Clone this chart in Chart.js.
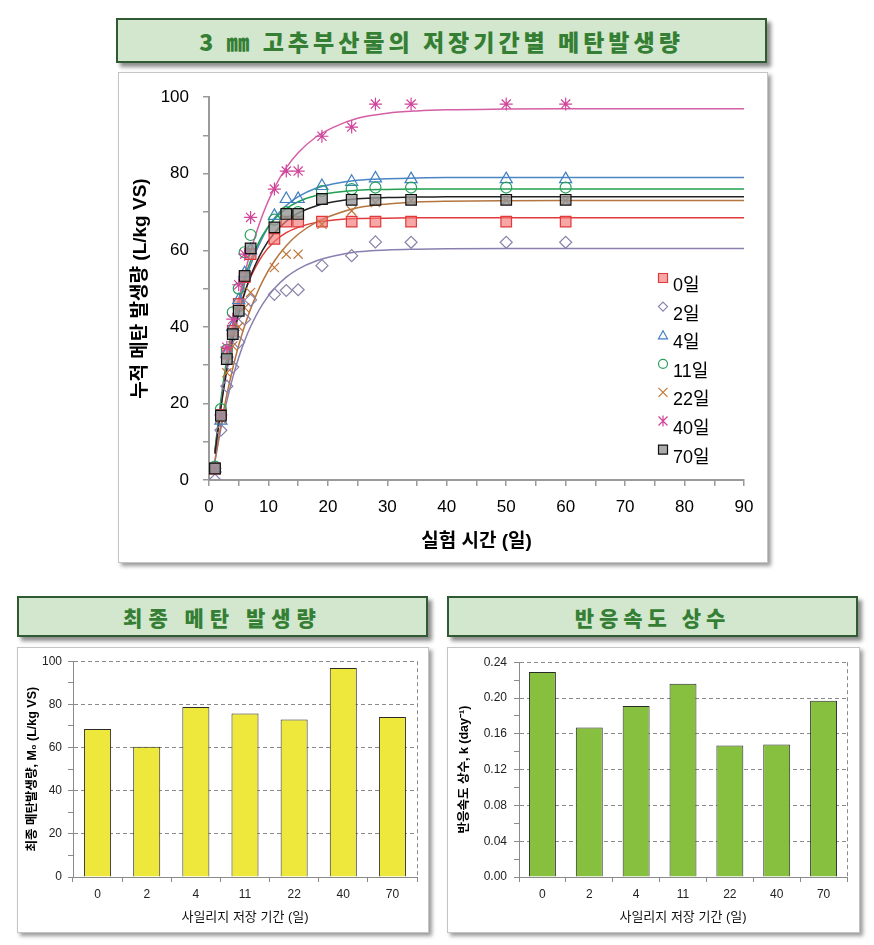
<!DOCTYPE html>
<html><head><meta charset="utf-8">
<script src="https://cdn.jsdelivr.net/npm/chart.js@4.4.1/dist/chart.umd.min.js"></script>
<style>
html,body{margin:0;padding:0;background:#fff;}
body{width:874px;height:945px;position:relative;overflow:hidden;font-family:'Noto Sans CJK KR',sans-serif;}
.tbox{position:absolute;background:#d2e7cd;border:2px solid #2f5a33;box-shadow:4px 4px 4px rgba(0,0,0,0.45);display:flex;align-items:center;justify-content:center;color:#357f35;font-weight:900;box-sizing:border-box;font-family:'Noto Sans CJK KR',serif;}
.cbox{position:absolute;background:#fff;border:1px solid #c4c4c4;box-shadow:3px 3px 4px rgba(0,0,0,0.4);box-sizing:border-box;}
canvas{position:absolute;}
</style></head>
<body>
<div class="tbox" style="left:116px;top:18px;width:651px;height:45px;font-size:23px;letter-spacing:4px;">3 ㎜ 고추부산물의 저장기간별 메탄발생량</div>
<div class="cbox" style="left:118px;top:72px;width:650px;height:491px;"></div>
<canvas id="c1" width="647" height="488" style="left:119px;top:73px;"></canvas>

<div class="tbox" style="left:17px;top:596px;width:411px;height:41px;font-size:21px;letter-spacing:6px;">최종 메탄 발생량</div>
<div class="cbox" style="left:17px;top:647px;width:412px;height:286px;"></div>
<canvas id="c2" width="410" height="283" style="left:18px;top:648px;"></canvas>

<div class="tbox" style="left:447px;top:596px;width:411px;height:41px;font-size:21px;letter-spacing:5px;">반응속도 상수</div>
<div class="cbox" style="left:447px;top:647px;width:413px;height:286px;"></div>
<canvas id="c3" width="410" height="283" style="left:448px;top:648px;"></canvas>

<script>
// ---------- data ----------
const seriesNames = ['0일','2일','4일','11일','22일','40일','70일'];
const days = [1,2,3,4,5,6,7,11,13,15,19,24,28,34,50,60];
const obs0  = [3,17,33,39,46,53,59,63,67.5,67.5,67.5,67.5,67.5,67.5,67.5,67.5];
const obs2  = [0,13,24.5,29.5,36,42,47,48.5,49.5,49.7,56,58.6,62.2,62.1,62.1,62.1];
const obs4  = [3,15.5,33,40,47,54,60,69,73.4,73.4,76.8,77.9,78.8,78.6,78.6,78.6];
const obs11 = [3.5,18.5,34,43.8,50,59.5,64,68,70,70,75.5,76,76.4,76.4,76.4,76.4];
const obs22 = [3,16,28,35,40,45,49,55.5,59,59,66.8,70.3,72.5,73,73,73];
const obs40 = [3,17,34.7,42,51,59,68.6,76,80.7,80.7,89.8,92.2,98.2,98.2,98.2,98.2];
const obs70 = [3,16.8,31.6,38.1,44.2,53.3,60.5,66,69.5,69.5,73.4,73.2,73.2,73.2,73.2,73.2];

const curveDays = [1,2,3,4,5,6,7,9,11,13,15,18,21,25,30,35,40,50,60,70,80,90];
const fit0  = [7.4,19.9,29.9,37.8,44.1,49.1,53.0,58.7,62.3,64.6,66.0,67.3,67.9,68.3,68.4,68.5,68.5,68.5,68.5,68.5,68.5,68.5];
const fit2  = [4.8,13.4,20.6,26.8,32.0,36.4,40.1,45.9,50.0,53.0,55.1,57.2,58.5,59.6,60.1,60.3,60.4,60.5,60.5,60.5,60.5,60.5];
const fit4  = [7.2,19.7,30.0,38.5,45.6,51.4,56.2,63.4,68.4,71.7,74.0,76.2,77.4,78.3,78.7,78.9,79.0,79.0,79.0,79.0,79.0,79.0];
const fit11 = [7.8,21.0,31.7,40.3,47.2,52.8,57.3,63.9,68.1,70.9,72.7,74.3,75.1,75.7,75.9,76.0,76.0,76.0,76.0,76.0,76.0,76.0];
const fit22 = [5.1,14.4,22.3,29.2,35.2,40.3,44.7,51.9,57.2,61.2,64.2,67.3,69.3,71.1,72.1,72.6,72.8,72.95,73.0,73.0,73.0,73.0];
const fit40 = [6.9,19.2,29.8,39.0,46.9,53.8,59.7,69.2,76.3,81.6,85.5,89.6,92.2,94.5,95.8,96.4,96.7,96.9,97.0,97.0,97.0,97.0];
const fit70 = [6.9,18.8,28.7,36.7,43.4,48.8,53.3,60.0,64.5,67.6,69.7,71.6,72.7,73.5,73.8,73.9,74.0,74.0,74.0,74.0,74.0,74.0];

const storageDays = ['0','2','4','11','22','40','70'];
const finalYield = [68.6,60.4,78.8,75.8,73.0,96.8,74.1];
const rateConst  = [0.229,0.167,0.191,0.216,0.147,0.148,0.197];

// ---------- styles ----------
const styles = [
  {ps:'rect',    r:7.5, bg:'rgba(245,120,120,0.65)', bc:'#e03a3a', line:'#e23a3a'},
  {ps:'rectRot', r:6,   bg:'rgba(0,0,0,0)',          bc:'#8a82aa', line:'#8a7fb0'},
  {ps:'triangle',r:7,   bg:'rgba(0,0,0,0)',          bc:'#3f7fc0', line:'#4a86c4'},
  {ps:'circle',  r:5.5, bg:'rgba(0,0,0,0)',          bc:'#27a05a', line:'#22a050'},
  {ps:'crossRot',r:6.5, bg:'rgba(0,0,0,0)',          bc:'#c0763a', line:'#b4753f'},
  {ps:'star',    r:6.5, bg:'rgba(0,0,0,0)',          bc:'#d0449a', line:'#d45ea4'},
  {ps:'rect',    r:7.5, bg:'rgba(150,150,150,0.8)',  bc:'#111111', line:'#222222'}
];
const obsAll = [obs0,obs2,obs4,obs11,obs22,obs40,obs70];
const fitAll = [fit0,fit2,fit4,fit11,fit22,fit40,fit70];

const datasets = [];
obsAll.forEach((arr,i)=>{
  datasets.push({
    label: seriesNames[i], type:'scatter', order: 10 - i,
    data: arr.map((v,j)=>({x:days[j], y:v})),
    pointStyle: styles[i].ps, pointRadius: styles[i].r,
    pointBackgroundColor: styles[i].bg, pointBorderColor: styles[i].bc,
    pointBorderWidth: 1.2, showLine:false
  });
});
fitAll.forEach((arr,i)=>{
  datasets.push({
    label: seriesNames[i]+' fit', type:'line', order: 30 - i,
    data: arr.map((v,j)=>({x:curveDays[j], y:v})),
    borderColor: styles[i].line, borderWidth: 1.5, pointRadius: 0,
    cubicInterpolationMode:'monotone', fill:false
  });
});

function drawMarker(ctx, st, x, y, r){
  ctx.save();
  ctx.fillStyle = st.bg; ctx.strokeStyle = st.bc; ctx.lineWidth = 1.2;
  ctx.beginPath();
  if (st.ps === 'rect'){ ctx.rect(x-r, y-r, 2*r, 2*r); ctx.fill(); ctx.stroke(); }
  else if (st.ps === 'rectRot'){ ctx.moveTo(x, y-r); ctx.lineTo(x+r, y); ctx.lineTo(x, y+r); ctx.lineTo(x-r, y); ctx.closePath(); ctx.stroke(); }
  else if (st.ps === 'triangle'){ ctx.moveTo(x, y-r); ctx.lineTo(x+r, y+r*0.8); ctx.lineTo(x-r, y+r*0.8); ctx.closePath(); ctx.stroke(); }
  else if (st.ps === 'circle'){ ctx.arc(x, y, r, 0, Math.PI*2); ctx.stroke(); }
  else if (st.ps === 'crossRot'){ ctx.moveTo(x-r,y-r); ctx.lineTo(x+r,y+r); ctx.moveTo(x+r,y-r); ctx.lineTo(x-r,y+r); ctx.stroke(); }
  else if (st.ps === 'star'){ ctx.moveTo(x-r,y-r); ctx.lineTo(x+r,y+r); ctx.moveTo(x+r,y-r); ctx.lineTo(x-r,y+r); ctx.moveTo(x,y-r*1.2); ctx.lineTo(x,y+r*1.2); ctx.stroke(); }
  ctx.restore();
}

const innerLegend = {
  id:'innerLegend',
  afterDraw(chart){
    const ctx = chart.ctx;
    const mx = 544, my0 = 205, step = 28.6;
    ctx.save();
    ctx.font = "18px 'Liberation Sans', 'Noto Sans CJK KR', sans-serif";
    ctx.fillStyle = '#000'; ctx.textBaseline = 'middle'; ctx.textAlign = 'left';
    seriesNames.forEach((n,i)=>{
      const y = my0 + i*step;
      drawMarker(ctx, styles[i], mx, y, 4.5);
      ctx.fillText(n, mx + 10, y + 8);
    });
    ctx.restore();
  }
};

const axisGray = '#9a9a9a';
new Chart(document.getElementById('c1'), {
  type:'scatter',
  data:{datasets},
  options:{
    responsive:false, animation:false,
    layout:{padding:{left:0,right:22,top:24,bottom:0}},
    plugins:{legend:{display:false}, tooltip:{enabled:false}},
    scales:{
      x:{type:'linear', min:0, max:90,
         afterFit:(s)=>{s.height = 81;},
         ticks:{stepSize:5, autoSkip:false, maxRotation:0, padding:11, color:'#000',
                font:{size:17, family:"'Liberation Sans', sans-serif"},
                callback:(v)=> (v % 10 === 0 ? String(v) : '')},
         grid:{display:true, drawOnChartArea:false, tickLength:6, color:axisGray, tickColor:axisGray, lineWidth:1.5},
         border:{display:true, color:axisGray, width:2},
         title:{display:true, text:'실험 시간 (일)', color:'#000', padding:{bottom:8},
                font:{size:19, weight:'bold', family:"'Liberation Sans', 'Noto Sans CJK KR', sans-serif"}}
      },
      y:{min:0, max:100,
         afterFit:(s)=>{s.width = 90;},
         ticks:{stepSize:10, autoSkip:false, padding:14, color:'#000',
                font:{size:17, family:"'Liberation Sans', sans-serif"},
                callback:(v)=> (v % 20 === 0 ? String(v) : '')},
         grid:{display:true, drawOnChartArea:false, tickLength:6, color:axisGray, tickColor:axisGray, lineWidth:1.5},
         border:{display:true, color:axisGray, width:2},
         title:{display:true, text:'누적 메탄 발생량 (L/kg VS)', color:'#000', padding:{top:10},
                font:{size:19, weight:'bold', family:"'Liberation Sans', 'Noto Sans CJK KR', sans-serif"}}
      }
    }
  },
  plugins:[innerLegend]
});

const rightDash = {
  id:'rightDash',
  beforeDatasetsDraw(chart){
    const {ctx, chartArea:a} = chart;
    ctx.save(); ctx.strokeStyle = '#8a8a8a'; ctx.lineWidth = 1; ctx.setLineDash([4,3]);
    ctx.beginPath(); ctx.moveTo(Math.round(a.right)+0.5, a.top); ctx.lineTo(Math.round(a.right)+0.5, a.bottom); ctx.stroke();
    ctx.restore();
  }
};

function barChart(id, values, color, yMax, step, isMajor, fmt, yTitle, yAxisW, yPad, yTitlePad, barPct){
  return new Chart(document.getElementById(id), {
    type:'bar',
    data:{labels:storageDays, datasets:[{data:values, backgroundColor:color, borderColor:'#2a2a2a', borderWidth:1, barPercentage:barPct, categoryPercentage:1}]},
    options:{
      responsive:false, animation:false,
      layout:{padding:{left:0,right:11,top:11,bottom:0}},
      plugins:{legend:{display:false}, tooltip:{enabled:false}},
      scales:{
        x:{afterFit:(s)=>{s.height = 54;},
           ticks:{padding:5, color:'#222', font:{size:12, family:"'Liberation Sans', sans-serif"}},
           grid:{display:true, offset:true, drawOnChartArea:false, tickLength:5, color:'#8a8a8a'},
           border:{display:true, color:'#8a8a8a', width:1},
           title:{display:true, text:'사일리지 저장 기간 (일)', color:'#111', padding:{bottom:6},
                  font:{size:13, family:"'Liberation Sans', 'Noto Sans CJK KR', sans-serif"}}
        },
        y:{min:0, max:yMax,
           afterFit:(s)=>{s.width = yAxisW;},
           ticks:{stepSize:step, autoSkip:false, padding:yPad, color:'#222',
                  font:{size:12, family:"'Liberation Sans', sans-serif"},
                  callback:(v)=> (isMajor(v) ? fmt(v) : '')},
           grid:{display:true, tickLength:5, lineWidth:1,
                 color:(c)=> (isMajor(c.tick.value) && c.tick.value > 0 ? '#8a8a8a' : 'rgba(0,0,0,0)'),
                 tickColor:'#8a8a8a', tickBorderDash:[]},
           border:{display:true, color:'#8a8a8a', width:1, dash:[4,3]},
           title:{display:true, text:yTitle, color:'#000', padding:{top:yTitlePad},
                  font:{size:12.5, weight:'bold', family:"'Liberation Sans', 'Noto Sans CJK KR', sans-serif"}}
        }
      }
    },
    plugins:[rightDash]
  });
}

barChart('c2', finalYield, '#efe83c', 100, 10,
  (v)=> Math.round(v) % 20 === 0, (v)=> String(Math.round(v)),
  '최종 메탄발생량, M₀ (L/kg VS)', 55, 6, 7, 0.55);

barChart('c3', rateConst, '#86c03e', 0.24, 0.02,
  (v)=> Math.round(v*100) % 4 === 0, (v)=> v.toFixed(2),
  '반응속도 상수, k (day⁻¹)', 71, 7, 9, 0.575);
</script>
</body></html>
